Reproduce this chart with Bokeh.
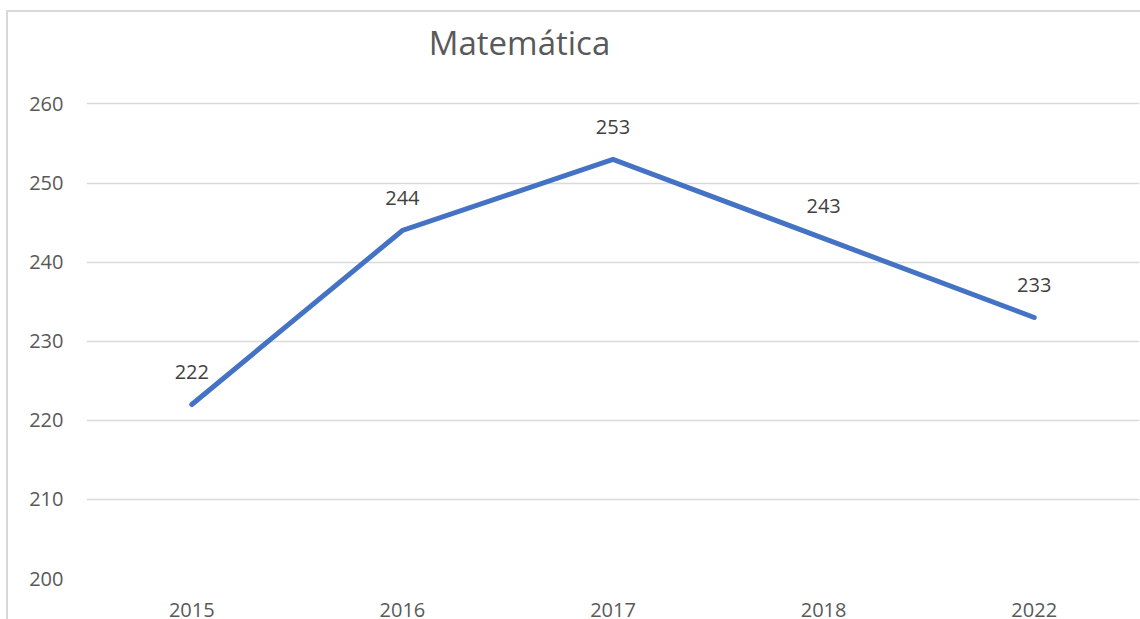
from bokeh.plotting import figure
from bokeh.models import ColumnDataSource, Label, Range1d, FixedTicker
from bokeh.core.properties import value
from bokeh.embed import file_html
from bokeh.resources import INLINE

years = ["2015", "2016", "2017", "2018", "2022"]
scores = [222, 244, 253, 243, 233]
y_ticks = [200, 210, 220, 230, 240, 250, 260]
title_text = "Matemática"

FONT = "Open Sans"
TXT = "#595959"

src = ColumnDataSource(dict(x=years, y=scores, lab=[str(v) for v in scores]))

bg = ("linear-gradient(#d9d9d9, #d9d9d9) 6px 10px / 2px 100% no-repeat, "
      "linear-gradient(#d9d9d9, #d9d9d9) 6px 10px / 100% 2px no-repeat, white")

# frame spans the full height above the x labels; 200..260 occupies its lower part
p = figure(
    x_range=years, y_range=Range1d(200, 273.08),
    width=1140, height=619,
    output_backend="svg", toolbar_location=None,
    min_border_left=86, min_border_right=1, min_border_top=0, min_border_bottom=38,
    styles={"background": bg},
)
p.title.visible = False
p.outline_line_color = None
p.background_fill_color = None
p.border_fill_color = None

p.xgrid.grid_line_color = None
p.ygrid.grid_line_color = "#d9d9d9"
p.ygrid.grid_line_width = 1.5
p.yaxis.ticker = FixedTicker(ticks=y_ticks)

for ax in (p.xaxis, p.yaxis):
    ax.axis_line_color = None
    ax.major_tick_line_color = None
    ax.minor_tick_line_color = None
    ax.major_tick_in = 0
    ax.major_tick_out = 0
    ax.major_label_text_font = FONT
    ax.major_label_text_font_size = "20px"
    ax.major_label_text_color = TXT
p.yaxis.major_label_standoff = 23
p.xaxis.major_label_standoff = 24

p.line("x", "y", source=src, line_color="#4472C4", line_width=5,
       line_join="miter", line_cap="round")

p.text("x", "y", text="lab", source=src, text_font=value(FONT),
       text_font_size="20px", text_color="#404040",
       text_align="center", text_baseline="alphabetic", y_offset=-32)

p.add_layout(Label(x=433, y=536, x_units="screen", y_units="screen",
                   text=title_text, text_font=FONT, text_font_size="33px",
                   text_color=TXT, text_align="center", text_baseline="alphabetic"))

open("out.html", "w").write(file_html(p, INLINE))
